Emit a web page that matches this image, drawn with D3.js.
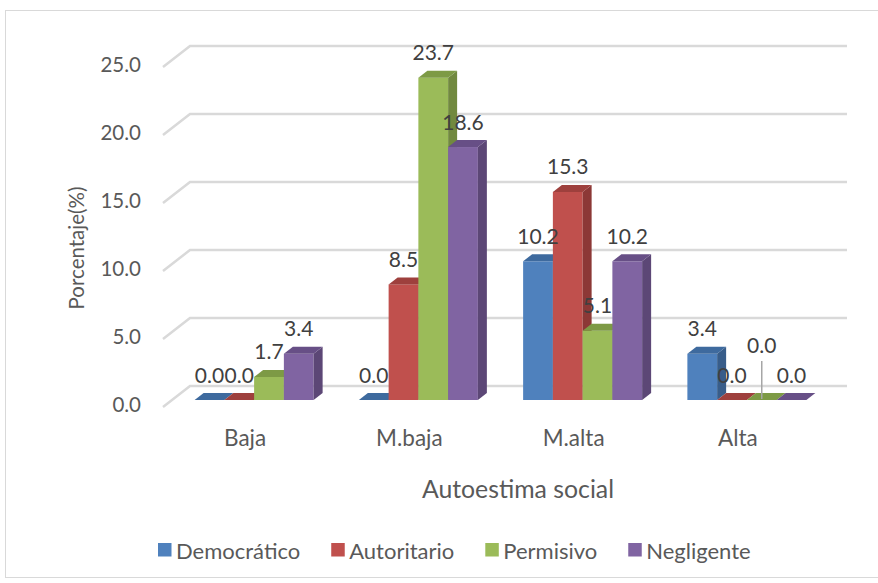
<!DOCTYPE html>
<html>
<head>
<meta charset="utf-8">
<script src="https://cdn.jsdelivr.net/npm/d3@7"></script>
<style>
  body { margin: 0; background: #fff; }
  svg { display: block; font-family: Lato, "Noto Sans", sans-serif; }
</style>
</head>
<body>
<div id="chart"></div>
<script>
const categories = ["Baja", "M.baja", "M.alta", "Alta"];
const seriesNames = ["Democrático", "Autoritario", "Permisivo", "Negligente"];
const democratico = [0.0, 0.0, 10.2, 3.4];
const autoritario = [0.0, 8.5, 15.3, 0.0];
const permisivo = [1.7, 23.7, 5.1, 0.0];
const negligente = [3.4, 18.6, 10.2, 0.0];
const yTicks = [0, 5, 10, 15, 20, 25];

const frontColors = ["#4F81BD", "#C0504D", "#9BBB59", "#8064A2"];
const sideColors = ["#385D8A", "#8C3836", "#71893F", "#5C4776"];
const topColors = ["#3E6A9E", "#9E403D", "#7D9A45", "#674F86"];

const seriesValues = [democratico, autoritario, permisivo, negligente];

const width = 878, height = 583;
// 3D wall offset (front to back) and bar depth slice
const DX = 27, DY = -21;
const z0 = 1 / 3, z1 = 2 / 3;

const svg = d3.select("#chart").append("svg")
  .attr("width", width).attr("height", height);

svg.append("rect")
  .attr("x", 5.5).attr("y", 10.5)
  .attr("width", 880).attr("height", 567)
  .attr("fill", "#fff").attr("stroke", "#D9D9D9");

const x = d3.scaleBand().domain(categories).range([163, 820])
  .paddingInner(0.2755).paddingOuter(0.1377);
const xs = d3.scaleBand().domain(seriesNames).range([0, x.bandwidth()]);
const y = d3.scaleLinear().domain([0, 25]).range([407, 67]);

// gridlines: left wall diagonal + back wall horizontal
const grid = svg.append("g").attr("stroke", "#D9D9D9").attr("stroke-width", 2.5).attr("fill", "none");
yTicks.forEach(t => {
  const x0 = x.range()[0], x1 = x.range()[1];
  grid.append("path")
    .attr("d", `M${x0},${y(t)}L${x0 + DX},${y(t) + DY}L${x1 + DX},${y(t) + DY}`);
});

svg.append("g").selectAll("text").data(yTicks).join("text")
  .attr("x", 141).attr("y", d => y(d) - 3)
  .attr("text-anchor", "end").attr("dominant-baseline", "central")
  .attr("font-size", 20.5).attr("fill", "#595959")
  .text(d => d.toFixed(1));

// bars
const dd = z1 - z0;
const bars = [];
categories.forEach((c, ci) => {
  seriesNames.forEach((s, si) => {
    bars.push({ c, s, si, ci, v: seriesValues[si][ci] });
  });
});

const barG = svg.append("g");
bars.forEach(b => {
  const bx0 = x(b.c) + xs(b.s) + DX * z0;
  const bx1 = bx0 + xs.bandwidth();
  const yb = y(0) + DY * z0;
  const yt = y(b.v) + DY * z0;
  const ox = DX * dd, oy = DY * dd;
  const g = barG.append("g");
  g.append("rect").attr("x", bx0).attr("y", yt)
    .attr("width", bx1 - bx0).attr("height", yb - yt)
    .attr("fill", frontColors[b.si]);
  g.append("path")
    .attr("d", `M${bx1},${yt}L${bx1 + ox},${yt + oy}L${bx1 + ox},${yb + oy}L${bx1},${yb}Z`)
    .attr("fill", sideColors[b.si]);
  g.append("path")
    .attr("d", `M${bx0},${yt}L${bx1},${yt}L${bx1 + ox},${yt + oy}L${bx0 + ox},${yt + oy}Z`)
    .attr("fill", topColors[b.si]);
  b.lx = (bx0 + bx1) / 2;
  b.ly = yt - 26;
});

// the Alta / Permisivo label is lifted with a leader line, as in the original
const labelG = svg.append("g");
bars.forEach(b => {
  let ly = b.ly;
  if (b.c === "Alta" && b.s === "Permisivo") {
    ly -= 30;
    labelG.append("line")
      .attr("x1", b.lx).attr("x2", b.lx)
      .attr("y1", ly + 17).attr("y2", b.ly + 25)
      .attr("stroke", "#A6A6A6").attr("stroke-width", 1.5);
  }
  labelG.append("text")
    .attr("x", b.lx).attr("y", ly)
    .attr("text-anchor", "middle").attr("dominant-baseline", "central")
    .attr("font-size", 21).attr("fill", "#404040")
    .text(b.v.toFixed(1));
});

// category labels
svg.append("g").selectAll("text").data(categories).join("text")
  .attr("x", d => x(d) + x.bandwidth() / 2)
  .attr("y", 437)
  .attr("text-anchor", "middle").attr("dominant-baseline", "central")
  .attr("font-size", 22.5).attr("fill", "#595959")
  .text(d => d);

svg.append("text")
  .attr("x", 518).attr("y", 488)
  .attr("text-anchor", "middle").attr("dominant-baseline", "central")
  .attr("font-size", 24.8).attr("fill", "#595959")
  .text("Autoestima social");

svg.append("text")
  .attr("transform", "translate(76,248) rotate(-90)")
  .attr("text-anchor", "middle").attr("dominant-baseline", "central")
  .attr("font-size", 20.5).attr("fill", "#595959")
  .text("Porcentaje(%)");

// legend
const legend = svg.append("g");
let lx = 158;
seriesNames.forEach((s, i) => {
  legend.append("rect").attr("x", lx).attr("y", 543)
    .attr("width", 13.5).attr("height", 13.5).attr("fill", frontColors[i]);
  const t = legend.append("text")
    .attr("x", lx + 18).attr("y", 550)
    .attr("dominant-baseline", "central")
    .attr("font-size", 22).attr("fill", "#595959")
    .text(s);
  lx += 18 + t.node().getComputedTextLength() + 31;
});
</script>
</body>
</html>
